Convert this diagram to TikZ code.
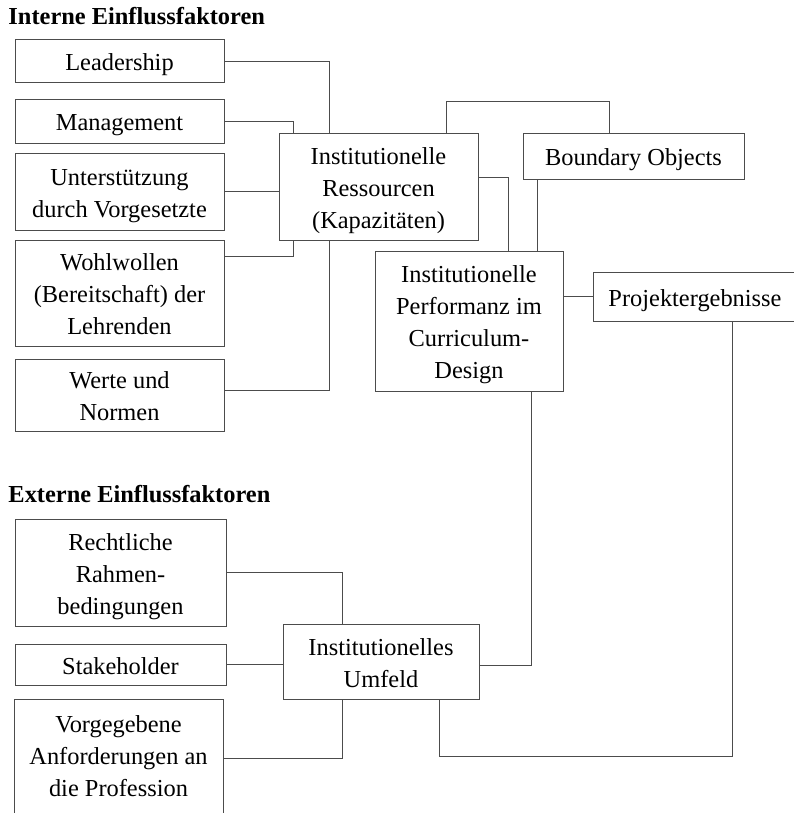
\documentclass[tikz,border=0pt]{standalone}
\usepackage{fontspec}
\setmainfont{Liberation Serif}
\usepackage{tikz}
\usetikzlibrary{calc}

\begin{document}
\begin{tikzpicture}[x=0.5pt, y=-0.5pt, line width=0.5pt,
    font=\fontsize{12.2}{16}\selectfont,
    fbox/.style={draw=black!70, align=flush center, inner sep=0pt,
      text height=9.5pt, text depth=0pt},
    head/.style={anchor=base west, inner sep=0pt, font=\fontsize{12.2}{16}\selectfont\bfseries},
    link/.style={draw=black!70}]
      % Picture frame (pixel units, y downwards)
      \useasboundingbox (0,0) rectangle (793,813);

      % Headings
      \node[head] (hint) at (8,25) {Interne Einflussfaktoren};
      \node[head] (hext) at (8,502) {Externe Einflussfaktoren};

      % Internal factors
      \node[fbox, text width=104.5pt, minimum height=21.5pt] (lead) at (119.5,61.5) {Leadership};
      \node[fbox, text width=104.5pt, minimum height=21.5pt] (mgmt) at (119.5,121.5) {Management};
      \node[fbox, text width=104.5pt, minimum height=38.5pt, text depth=16pt] (unter) at (119.5,191.5) {Unterstützung\\durch Vorgesetzte};
      \node[fbox, text width=104.5pt, minimum height=53pt, text depth=32pt] (wohl) at (119.5,293) {Wohlwollen\\(Bereitschaft) der\\Lehrenden};
      \node[fbox, text width=104.5pt, minimum height=36pt, text depth=16pt] (werte) at (119.5,395) {Werte und\\Normen};

      % Centre column
      \node[fbox, text width=99.5pt, minimum height=53.5pt, text depth=32pt] (ress) at (378.5,186.5) {Institutionelle\\Ressourcen\\(Kapazitäten)};
      \node[fbox, text width=110.5pt, minimum height=23pt] (bound) at (633.5,156) {Boundary Objects};
      \node[fbox, text width=94pt, minimum height=70pt, text depth=48pt] (perf) at (469,321) {Institutionelle\\Performanz im\\Curriculum-\\Design};
      \node[fbox, text width=102pt, minimum height=24.5pt] (proj) at (695,296.5) {Projektergebnisse};

      % External factors
      \node[fbox, text width=105.5pt, minimum height=53.5pt, text depth=32pt] (recht) at (120.5,572.5) {Rechtliche\\Rahmen-\\bedingungen};
      \node[fbox, text width=105.5pt, minimum height=20.5pt] (stake) at (120.5,664.5) {Stakeholder};
      \node[fbox, text width=104.5pt, minimum height=59pt, text depth=35.5pt] (vorg) at (118.5,758) {Vorgegebene\\Anforderungen an\\die Profession};
      \node[fbox, text width=98pt, minimum height=37.5pt, text depth=16pt] (umf) at (381,661.5) {Institutionelles\\Umfeld};

      % Links into the resources box
      \draw[link] (lead.east) -| ($(ress.north west)+(51,0)$);
      \draw[link] (mgmt.east) -| ($(ress.north west)+(15,0)$);
      \draw[link] (unter.east) -- (unter.east -| ress.west);
      \draw[link] ($(wohl.north east)+(0,17)$) -| ($(ress.south west)+(15,0)$);
      \draw[link] ($(werte.north east)+(0,32)$) -| ($(ress.south west)+(51,0)$);

      % Resources, boundary objects and performance
      \draw[link] ($(ress.north west)+(168,0)$) -- ++(0,-31) -| ($(bound.north west)+(87,0)$);
      \draw[link] ($(ress.north east)+(0,45)$) -| ($(perf.north west)+(134,0)$);
      \coordinate (bo) at ($(bound.south west)+(15,0)$);
      \draw[link] (bo) -- (bo |- perf.north);
      \draw[link] (perf.east |- proj.west) -- (proj.west);

      % Results back to the environment
      \coordinate (pb) at ($(proj.south west)+(140,0)$);
      \coordinate (ub) at ($(umf.south west)+(157,0)$);
      \draw[link] (pb) -- ++(0,435) -| (ub);
      \draw[link] ($(umf.north east)+(0,42)$) -| ($(perf.south west)+(157,0)$);

      % Links into the environment box
      \draw[link] (recht.east) -| ($(umf.north west)+(60,0)$);
      \draw[link] (stake.east) -- (stake.east -| umf.west);
      \draw[link] (vorg.east) -| ($(umf.south west)+(60,0)$);
    \end{tikzpicture}
\end{document}
